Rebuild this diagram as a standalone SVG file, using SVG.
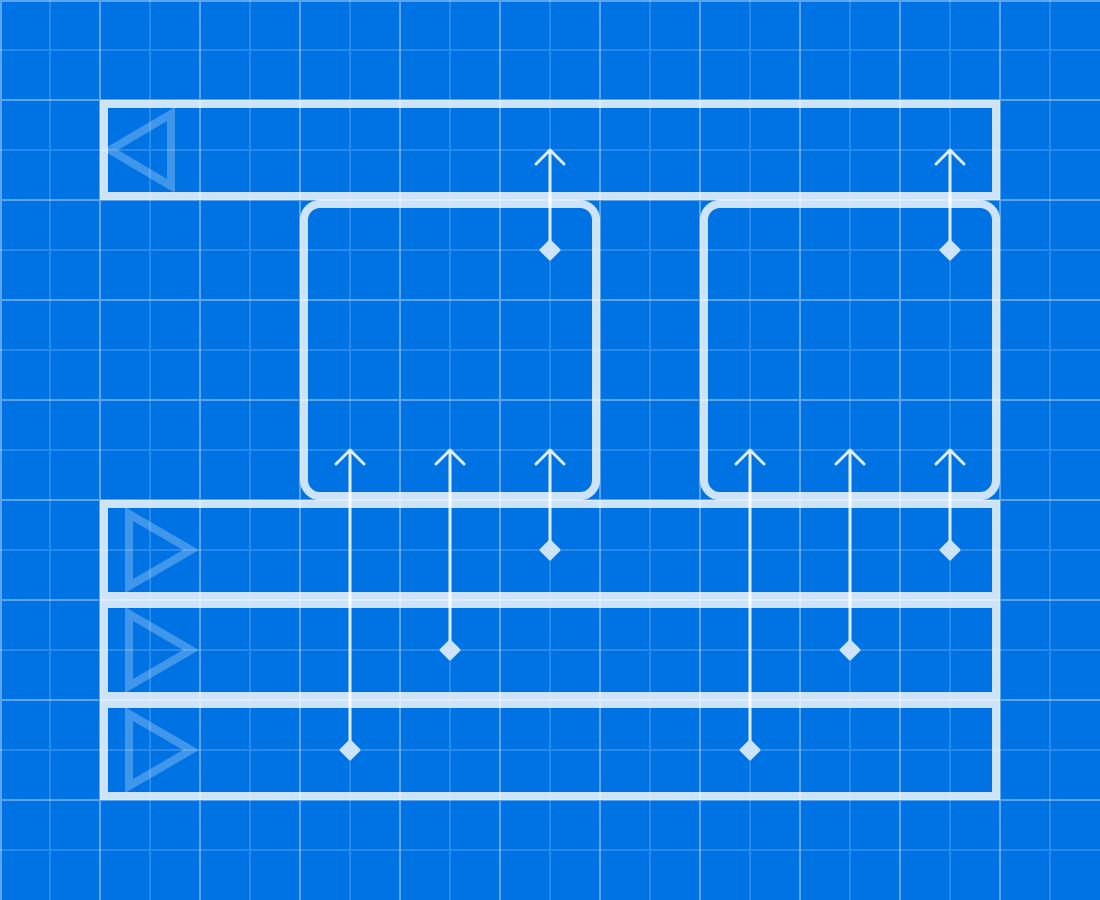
<svg xmlns="http://www.w3.org/2000/svg" width="1100" height="900" viewBox="0 0 1100 900">
<defs>
<style>
.minor{fill:none;stroke:#ffffff;stroke-opacity:0.16;stroke-width:2}
.major{fill:none;stroke:#ffffff;stroke-opacity:0.36;stroke-width:2}
.box{fill:none;stroke:#ffffff;stroke-opacity:0.8;stroke-width:8}
.tri{fill:none;stroke:#ffffff;stroke-opacity:0.25;stroke-width:8}
.wire{fill:none;stroke:#ffffff;stroke-opacity:0.85;stroke-width:3;stroke-linecap:round;stroke-linejoin:round}
.dot{fill:#CCE3F9;stroke:#CCE3F9;stroke-width:3;stroke-linejoin:round}
</style>
</defs>
<rect width="1100" height="900" fill="#0073E4"/>
<g id="grid">
<path class="minor" d="M50 0V900M150 0V900M250 0V900M350 0V900M450 0V900M550 0V900M650 0V900M750 0V900M850 0V900M950 0V900M1050 0V900M0 50H1100M0 150H1100M0 250H1100M0 350H1100M0 450H1100M0 550H1100M0 650H1100M0 750H1100M0 850H1100"/>
<path class="major" d="M1 0V900M100 0V900M200 0V900M300 0V900M400 0V900M500 0V900M600 0V900M700 0V900M800 0V900M900 0V900M1000 0V900M0 1H1100M0 100H1100M0 200H1100M0 300H1100M0 400H1100M0 500H1100M0 600H1100M0 700H1100M0 800H1100"/>
</g>

<g id="bar-top">
<rect class="box" x="104" y="104" width="892" height="92"/>
<polygon class="tri" points="171,114 171,186 110,150"/>
</g>
<g id="block-left">
<rect class="box" x="304" y="204" width="292" height="292" rx="16"/>
</g>
<g id="block-right">
<rect class="box" x="704" y="204" width="292" height="292" rx="16"/>
</g>
<g id="bar-1">
<rect class="box" x="104" y="504" width="892" height="92"/>
<polygon class="tri" points="129,514 129,586 191,550"/>
</g>
<g id="bar-2">
<rect class="box" x="104" y="604" width="892" height="92"/>
<polygon class="tri" points="129,614 129,686 191,650"/>
</g>
<g id="bar-3">
<rect class="box" x="104" y="704" width="892" height="92"/>
<polygon class="tri" points="129,714 129,786 191,750"/>
</g>

<g id="connectors">
<path class="wire" d="M550 250V150M536 164L550 150L564 164"/>
<polygon class="dot" points="550,241 559,250 550,259 541,250"/>
<path class="wire" d="M950 250V150M936 164L950 150L964 164"/>
<polygon class="dot" points="950,241 959,250 950,259 941,250"/>
<path class="wire" d="M550 550V450M536 464L550 450L564 464"/>
<polygon class="dot" points="550,541 559,550 550,559 541,550"/>
<path class="wire" d="M950 550V450M936 464L950 450L964 464"/>
<polygon class="dot" points="950,541 959,550 950,559 941,550"/>
<path class="wire" d="M450 650V450M436 464L450 450L464 464"/>
<polygon class="dot" points="450,641 459,650 450,659 441,650"/>
<path class="wire" d="M850 650V450M836 464L850 450L864 464"/>
<polygon class="dot" points="850,641 859,650 850,659 841,650"/>
<path class="wire" d="M350 750V450M336 464L350 450L364 464"/>
<polygon class="dot" points="350,741 359,750 350,759 341,750"/>
<path class="wire" d="M750 750V450M736 464L750 450L764 464"/>
<polygon class="dot" points="750,741 759,750 750,759 741,750"/>
</g>
</svg>
